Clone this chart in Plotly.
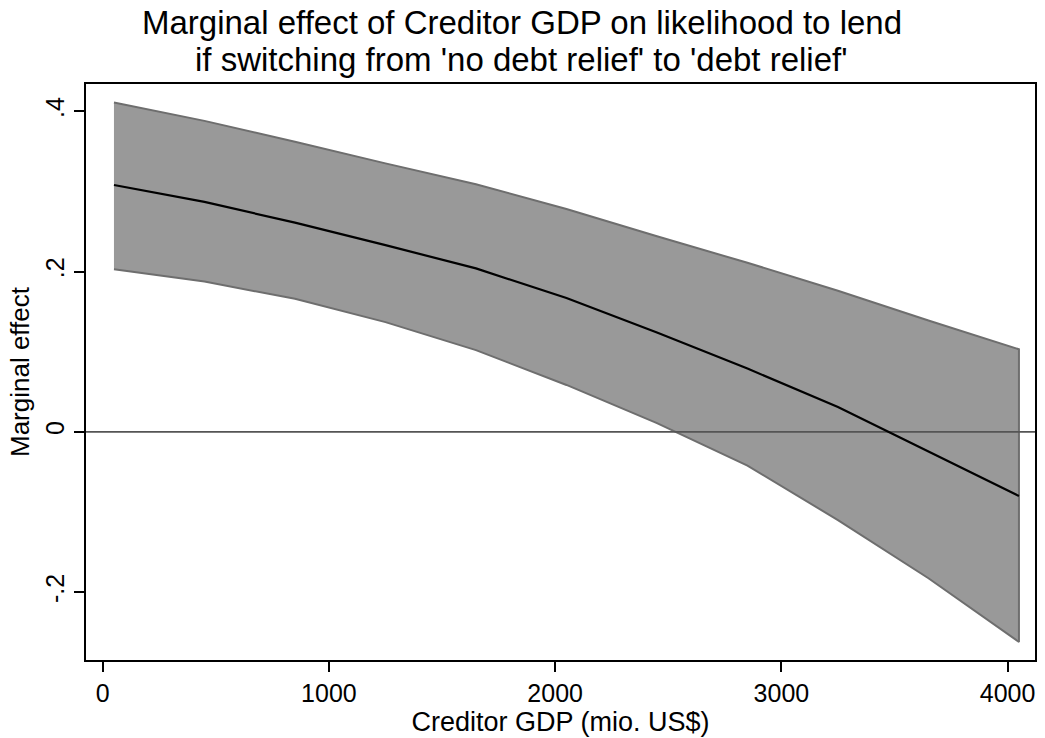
import plotly.graph_objects as go

# Creditor GDP grid (mio. US$) and marginal effect with 95% confidence bounds
gdp = [50, 450, 850, 1250, 1650, 2050, 2450, 2850, 3250, 3650, 4050]
effect = [0.308, 0.287, 0.261, 0.233, 0.204, 0.167, 0.124, 0.079, 0.031, -0.025, -0.080]
upper = [0.411, 0.388, 0.362, 0.335, 0.309, 0.278, 0.244, 0.211, 0.176, 0.139, 0.103]
lower = [0.203, 0.1875, 0.166, 0.137, 0.102, 0.0586, 0.011, -0.042, -0.110, -0.1825, -0.262]

x_ticks = [0, 1000, 2000, 3000, 4000]
y_ticks = [-0.2, 0, 0.2, 0.4]
y_tick_labels = ["-.2", "0", ".2", ".4"]

x_range = [-73.6, 4121]
y_range = [-0.2845, 0.434]

FONT = "Liberation Sans, Arial, Helvetica, sans-serif"

fig = go.Figure()

# confidence band: upper bound forward, lower bound back
fig.add_trace(go.Scatter(
    x=gdp + gdp[::-1],
    y=upper + lower[::-1],
    fill="toself",
    fillcolor="#999999",
    line=dict(color="#6e6e6e", width=2),
    mode="lines",
    hoverinfo="skip",
    showlegend=False,
))

# reference line at zero effect
fig.add_trace(go.Scatter(
    x=x_range,
    y=[0, 0],
    mode="lines",
    line=dict(color="#555555", width=1.6),
    hoverinfo="skip",
    showlegend=False,
))

# point estimate
fig.add_trace(go.Scatter(
    x=gdp,
    y=effect,
    mode="lines",
    line=dict(color="#000000", width=2.2),
    showlegend=False,
))

axis_common = dict(
    showgrid=False,
    zeroline=False,
    showline=True,
    linecolor="#000000",
    linewidth=2,
    mirror=True,
    ticks="outside",
    ticklen=10,
    tickwidth=1.5,
    tickcolor="#000000",
    tickfont=dict(family=FONT, size=25, color="#000000"),
)

fig.update_xaxes(
    range=x_range,
    tickvals=x_ticks,
    ticktext=[str(v) for v in x_ticks],
    title=dict(text="Creditor GDP (mio. US$)", font=dict(family=FONT, size=27, color="#000000"), standoff=2),
    **axis_common,
)
fig.update_yaxes(
    range=y_range,
    tickvals=y_ticks,
    ticktext=y_tick_labels,
    tickangle=-90,
    title=dict(text="Marginal effect", font=dict(family=FONT, size=26, color="#000000"), standoff=4),
    **axis_common,
)

# two-line title, centred on the whole figure and set tightly
title_x = (1045 / 2 - 86) / (1045 - 86 - 8)
fig.add_annotation(
    text="Marginal effect of Creditor GDP on likelihood to lend",
    xref="paper", yref="paper", x=title_x, y=1, yshift=62,
    xanchor="center", yanchor="middle", showarrow=False,
    font=dict(family=FONT, size=33, color="#000000"),
)
fig.add_annotation(
    text="if switching from 'no debt relief' to 'debt relief'",
    xref="paper", yref="paper", x=title_x, y=1, yshift=25,
    xanchor="center", yanchor="middle", showarrow=False,
    font=dict(family=FONT, size=33, color="#000000"),
)

fig.update_layout(
    width=1045,
    height=738,
    margin=dict(l=86, r=8, t=84, b=78),
    paper_bgcolor="#ffffff",
    plot_bgcolor="#ffffff",
    font=dict(family=FONT, color="#000000"),
)

fig.write_html("out.html")
